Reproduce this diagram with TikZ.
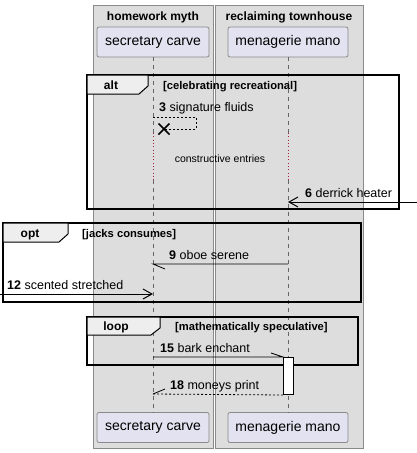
\documentclass[tikz,border=0pt]{standalone}
\usepackage{fontspec}
\setmainfont{Liberation Sans}
\usetikzlibrary{arrows.meta,positioning}
\definecolor{boxgrey}{HTML}{DDDDDD}
\definecolor{partfill}{HTML}{E2E2F0}
\definecolor{partline}{HTML}{8A8A8A}
\definecolor{tabfill}{HTML}{EEEEEE}
\definecolor{delayred}{HTML}{A0203A}

\begin{document}
\begin{tikzpicture}[x=1pt,y=-1pt,
    groupbox/.style={draw=partline, fill=boxgrey, line width=0.8pt},
    grouptitle/.style={font=\bfseries\fontsize{12}{14}\selectfont, anchor=base},
    participant/.style={draw=partline, fill=partfill, rounded corners=2pt, line width=0.8pt,
        minimum width=112pt, minimum height=30pt, inner sep=0pt, font=\fontsize{14}{16}\selectfont},
    lifeline/.style={draw=black!60, dash pattern=on 4pt off 4pt, line width=0.5pt},
    delayline/.style={draw=delayred, dash pattern=on 0.8pt off 2.5pt, line width=0.7pt},
    frame/.style={draw=black, line width=1.5pt},
    tab/.style={draw=black, fill=tabfill, line width=1pt},
    framelabel/.style={font=\bfseries\fontsize{12}{14}\selectfont, anchor=base},
    guard/.style={font=\bfseries\fontsize{11.2}{13}\selectfont, anchor=base west, inner sep=0pt},
    msg/.style={font=\fontsize{12.5}{14}\selectfont, anchor=base west, inner sep=0pt},
    call/.style={draw=black, line width=0.8pt},
    reply/.style={draw=black, line width=0.8pt, dash pattern=on 2pt off 2pt},
    tipfull/.style={-{Straight Barb[length=9pt,width=10pt,line width=1pt]}},
    activation/.style={draw=black, fill=white, line width=1pt}
]
\useasboundingbox (0,0) rectangle (417,453);

% groups
\draw[groupbox] (93,5) rectangle (213,448);
\draw[groupbox] (215,5) rectangle (363,448);
\node[grouptitle] (g1) at (153,20) {homework myth};
\node[grouptitle] (g2) at (289,20) {reclaiming townhouse};

% participants
\node[participant] (sc) at (153,42) {secretary carve};
\node[participant, minimum width=120pt] (mm) at (288,42) {menagerie mano};
\node[participant] (scb) at (153,427.5) {secretary carve};
\node[participant, minimum width=120pt] (mmb) at (288,427.5) {menagerie mano};

% lifelines with delay
\coordinate (scd1) at (153,133);
\coordinate (scd2) at (153,180);
\coordinate (mmd1) at (288,133);
\coordinate (mmd2) at (288,180);
\draw[lifeline] (sc.south) -- (scd1);
\draw[delayline] (scd1) -- (scd2);
\draw[lifeline] (scd2) -- (scb.north);
\draw[lifeline] (mm.south) -- (mmd1);
\draw[delayline] (mmd1) -- (mmd2);
\draw[lifeline] (mmd2) -- (mmb.north);
\node[font=\fontsize{10.5}{12}\selectfont] (delay) at (220,159) {constructive entries};

% alt frame
\draw[frame] (87,75) rectangle (399,209);
\draw[tab] (87,75) -- (148,75) -- (148,86) -- (139,94) -- (87,94) -- cycle;
\node[framelabel] (altl) at (111,89) {alt};
\node[guard] (altg) at (163,89) {[celebrating recreational]};

% 3 self message ending in destroy
\node[msg] (m3) at (159,111) {\textbf{3} signature fluids};
\coordinate (s3a) at (153,117);
\coordinate (s3b) at (196,117);
\coordinate (s3c) at (196,129);
\coordinate (x3) at (164,129);
\draw[reply] (s3a) -- (s3b) -- (s3c) -- (x3);
\draw[line width=1.6pt] ([shift={(-5.5,-5.5)}]x3) -- ([shift={(5.5,5.5)}]x3)
    ([shift={(-5.5,5.5)}]x3) -- ([shift={(5.5,-5.5)}]x3);

% 6 found message
\coordinate (in6) at (417,202);
\coordinate (to6) at (288,202);
\draw[call, tipfull] (in6) -- (to6);
\node[msg] (m6) at (305,197) {\textbf{6} derrick heater};

% opt frame
\draw[frame] (3,223) rectangle (361,302);
\draw[tab] (3,223) -- (68,223) -- (68,234) -- (59,242) -- (3,242) -- cycle;
\node[framelabel] (optl) at (30,237) {opt};
\node[guard] (optg) at (82,237) {[jacks consumes]};

% 9
\coordinate (from9) at (288,264);
\coordinate (to9) at (153,264);
\draw[call] (from9) -- (to9) -- ++(12,5);
\node[msg] (m9) at (169,259) {\textbf{9} oboe serene};

% 12 found message
\coordinate (in12) at (0,294);
\coordinate (to12) at (153,294);
\draw[call, tipfull] (in12) -- (to12);
\node[msg] (m12) at (7,289) {\textbf{12} scented stretched};

% loop frame
\draw[frame] (87,317) rectangle (358,365);
\draw[tab] (87,317) -- (160,317) -- (160,328) -- (151,335) -- (87,335) -- cycle;
\node[framelabel] (loopl) at (116,330) {loop};
\node[guard] (loopg) at (175,330) {[mathematically speculative]};

% activation
\node[activation, minimum width=10pt, minimum height=37pt, inner sep=0pt, anchor=north west] (act) at (283,357) {};

% 15
\coordinate (from15) at (153,357);
\draw[call] (from15) -- (act.north west) -- ++(-12,-4);
\node[msg] (m15) at (160,352) {\textbf{15} bark enchant};

% 18
\coordinate (to18) at (153,394);
\draw[reply] (act.south west) -- (to18);
\draw[call] (to18) -- ++(12,-5);
\node[msg] (m18) at (170,389) {\textbf{18} moneys print};
\end{tikzpicture}
\end{document}
